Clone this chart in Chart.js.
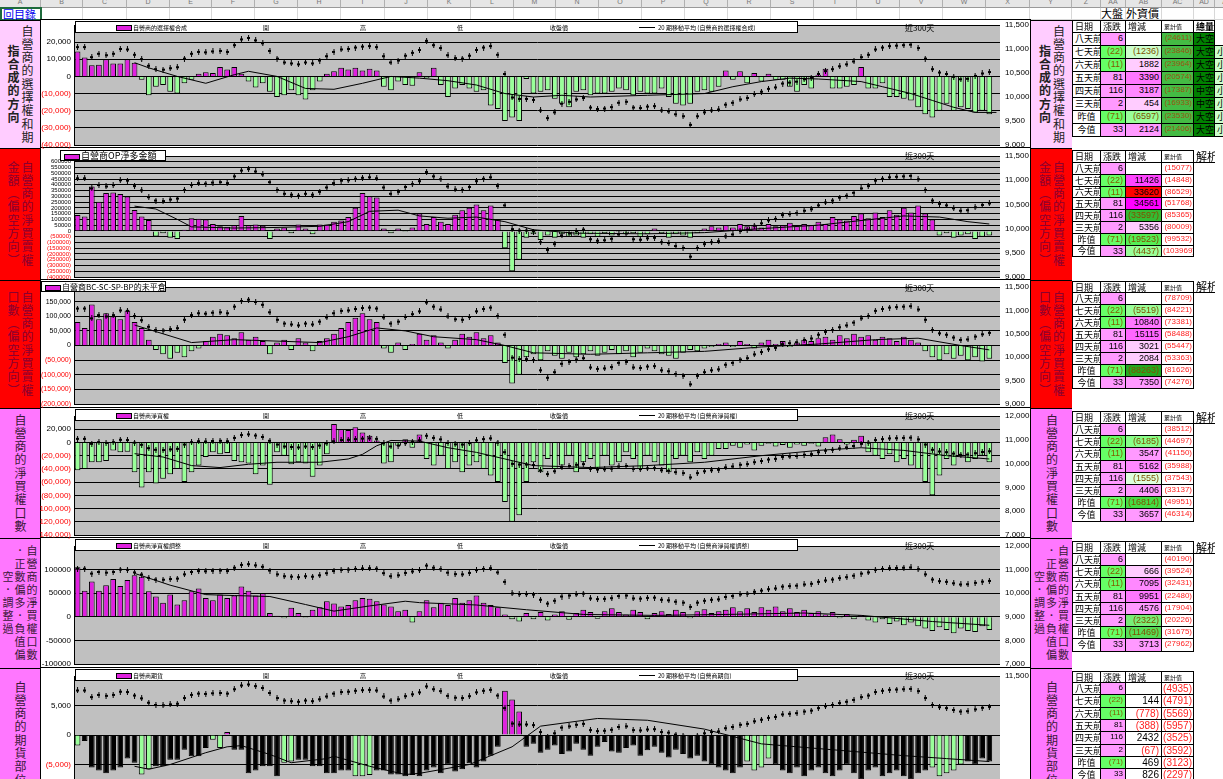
<!DOCTYPE html>
<html lang="zh-Hant">
<head>
<meta charset="UTF-8">
<title>自營商部位</title>
<script src="https://cdn.jsdelivr.net/npm/chart.js"></script>
<style>
    body {
        margin: 0;
        width: 1223px;
        height: 779px;
        overflow: hidden;
        position: relative;
        background: #fff;
        font-family: "Noto Sans CJK TC", sans-serif;
    }

    .abs { position: absolute; box-sizing: border-box; }

    .colhead {
        position: absolute; top: 0; height: 8px; box-sizing: border-box;
        background: #e6e6e6; border-right: 1px solid #b0b0b0; border-bottom: 1px solid #999;
        font: 7px "Liberation Sans", sans-serif; color: #777; text-align: center; line-height: 4px;
        overflow: hidden;
    }

    .gcell { position: absolute; top: 8px; height: 12px; box-sizing: border-box; border-right: 1px solid #d8d8d8; border-bottom: 1px solid #d8d8d8; }

    .side {
        position: absolute; box-sizing: border-box; display: flex;
        justify-content: center; align-items: center; border-top: 1px solid #000; overflow: hidden;
    }

    .side span {
        writing-mode: vertical-rl; font-size: 12px; line-height: 14px; letter-spacing: 1.3px;
        text-align: center;
    }

    .side span.tight { font-size: 11px; line-height: 12px; letter-spacing: 2px; }

    .chartbox { position: absolute; left: 40px; width: 991px; border: 1px solid #000; background: #fff; box-sizing: border-box; }

    canvas { position: absolute; left: 40px; }

    .legend {
        position: absolute; border: 1px solid #000; background: #fff; box-sizing: border-box;
        white-space: nowrap; color: #000;
    }

    .legend i { position: absolute; display: block; }

    .legend b { position: absolute; font-weight: normal; }

    .tag300 { position: absolute; font-size: 8px; color: #000; }

    .cell {
        position: absolute; box-sizing: border-box; border-right: 1px solid #000; border-bottom: 1px solid #000;
        font-size: 9px; overflow: hidden; white-space: nowrap; padding: 0 2px;
    }
</style>
</head>
<body>

<div id="root"></div>

<script>
    // ---- data ----
    const tblDays = ['八天前', '七天前', '六天前', '五天前', '四天前', '三天前', '昨值', '今值'];
    const tblChg = [6, -22, -11, 81, 116, 2, -71, 33];

    const t1Delta = [null, -1236, 1882, 3390, 3187, 454, -6597, 2124];
    const t1Cum = [-24611, -23846, -23964, -20574, -17387, -16933, -23530, -21406];
    const t1Tag = ['大空', '大空', '大空', '大空', '中空', '中空', '大空', '大空'];
    const t2Delta = [null, 11426, 33620, 34561, -33597, 5356, -19523, -4437];
    const t2Cum = [-15077, -14848, -86529, -51768, -85365, -80009, -99532, -103969];
    const t3Delta = [null, -5519, 10840, 15115, 3021, 2084, -88263, 7350];
    const t3Cum = [-78709, -84221, -73381, -58488, -55447, -53363, -81626, -74276];
    const t4Delta = [null, -6185, 3547, 5162, -1555, 4406, -16814, 3657];
    const t4Cum = [-38512, -44697, -41150, -35988, -37543, -33137, -49951, -46314];
    const t5Delta = [null, 666, 7095, 9951, 4576, -2322, -11469, 3713];
    const t5Cum = [-40190, -39524, -32431, -22480, -17904, -20226, -31675, -27962];
    const t6Delta = [null, 144, -778, -388, 2432, -67, 469, 826];
    const t6Cum = [-4935, -4791, -5569, -5957, -3525, -3592, -3123, -2297];

    // 加權指數 (shared by every panel, right axis)
    const idx = [
        11040, 11040, 10830, 10900, 10870, 10900, 11000, 10990, 10880, 10790,
        10650, 10580, 10570, 10600, 10620, 10800, 10900, 10940, 10930, 10950,
        10960, 10940, 11080, 11200, 11230, 11180, 11120, 10960, 10800, 10720,
        10700, 10680, 10720, 10700, 10760, 10850, 10940, 10990, 11000, 11030,
        11050, 11060, 11040, 10850, 10720, 10760, 10860, 10920, 10980, 11170,
        11080, 11020, 10870, 10810, 10800, 10860, 10980, 11030, 11060, 10880,
        10480, 9990, 9960, 9960, 9940, 9720, 9560, 9680, 9860, 9900,
        9950, 9980, 9780, 9750, 9760, 9790, 9880, 9900, 9780, 9770,
        9800, 9810, 9720, 9700, 9640, 9600, 9420, 9600, 9680, 9720,
        9740, 9840, 9880, 9950, 9980, 10060, 10110, 10170, 10200, 10280,
        10300, 10320, 10370, 10400, 10480, 10540, 10580, 10640, 10680, 10740,
        10830, 10880, 10990, 11030, 11060, 11070, 11080, 11090, 11020, 10800,
        10580, 10510, 10480, 10420, 10370, 10380, 10440, 10490, 10520, null
    ];

    const p1Bars = [
        14500, 11000, 6500, 6800, 10000, 7500, 7500, 10000, 8000, -2000,
        -11000, -6000, -5000, -9000, -10000, -4000, -2000, 1500, 2500, 2000,
        5500, 4000, 5500, 1500, -3000, -6500, -4000, -9000, -12000, -11000,
        -8000, -11000, -13500, -8000, -3000, 1500, 3000, 5000, 4000, 5000,
        3500, 4500, 3500, -6000, -8000, -3000, -5000, -5500, 2500, -1000,
        5000, -5000, -12000, -7000, -5000, -7000, -9000, -8000, -17000, -19000,
        -26000, -24000, -26000, -1500, -10000, -9000, -8000, -13000, -16000, -18000,
        -9000, -8000, -11000, -10000, -10000, -9000, -7000, -8000, -11000, -9000,
        -10000, -10000, -7000, -12000, -16000, -17000, -16000, -9000, -8000, -9000,
        -6000, 3500, -2000, 3000, -4000, 2000, -3000, 1500, -2000, -2000,
        -6000, -9000, -5000, -7000, 1000, 4500, -7000, -7000, -6000, -5000,
        5500, -7000, -7000, -4000, -12000, -12000, -13000, -14000, -18000, -22000,
        -24000, -20000, -16000, -20000, -18000, -19000, -21000, -20000, -22000, null
    ];
    const p1MaAt = [8, 10, 14, 18, 22, 24, 28, 32, 36, 40, 44, 48, 52, 56, 60, 64, 68, 72, 80, 88, 92, 96, 100, 104, 110, 113, 117, 120, 123, 126, 129];
    const p1Ma = [8000, 5000, 0, -4000, 1000, 3000, 0, -7000, -7500, -4000, 0, -1000, -2500, -5000, -10000, -12000, -11000, -12000, -11000, -10000, -6000, -3000, -1000, -1500, -3000, -6000, -10000, -14000, -18000, -21000, -21000];

    const p2Bars = [
        137000, 124000, 385000, 254000, 330000, 333000, 320000, 298000, 182000, 124000,
        95000, -49000, -20000, -60000, -70000, 10000, 110000, 105000, 100000, 60000,
        40000, 35000, 50000, 130000, 50000, 55000, 45000, -70000, 20000, 30000,
        -20000, 55000, 20000, -30000, 55000, 55000, 80000, 90000, 120000, 200000,
        330000, 300000, 290000, 20000, -20000, 20000, -10000, 30000, 150000, 60000,
        120000, 80000, 60000, 140000, 180000, 200000, 230000, 180000, 220000, 100000,
        -150000, -350000, -250000, -60000, -30000, -80000, -40000, -60000, -30000, -50000,
        -40000, -60000, -30000, -50000, -20000, -40000, -10000, -30000, -20000, -50000,
        -30000, 20000, -20000, -60000, -30000, -40000, -60000, -20000, 20000, 40000,
        30000, 50000, 30000, 60000, 40000, 50000, 30000, 60000, 40000, 50000,
        70000, 40000, 60000, 50000, 80000, 60000, 120000, 100000, 90000, 130000,
        150000, 110000, 160000, 120000, 180000, 140000, 200000, 160000, 220000, 150000,
        100000, -40000, -20000, -60000, -40000, -30000, -70000, -50000, -40000, null
    ];
    const p2MaAt = [8, 11, 14, 16, 22, 28, 34, 38, 41, 45, 48, 52, 56, 60, 64, 70, 80, 88, 96, 104, 110, 116, 121, 125, 128];
    const p2Ma = [215000, 190000, 100000, 35000, 25000, 30000, 40000, 80000, 170000, 180000, 130000, 110000, 120000, 80000, 10000, -20000, -25000, -15000, 20000, 50000, 90000, 130000, 120000, 80000, 60000];

    const p3Bars = [
        80000, 60000, 140000, 90000, 110000, 100000, 90000, 120000, 80000, 60000,
        20000, -15000, -30000, -45000, -25000, -40000, -20000, -10000, 15000, 30000,
        40000, 35000, 25000, 45000, 20000, 30000, 15000, -30000, 10000, 20000,
        -15000, 25000, 10000, -20000, 15000, 25000, 40000, 60000, 80000, 95000,
        110000, 90000, 80000, -10000, -25000, 10000, -15000, 5000, 40000, 20000,
        35000, 10000, -10000, 20000, 40000, 30000, 45000, 25000, 35000, 10000,
        -60000, -130000, -100000, -40000, -30000, -50000, -20000, -35000, -45000, -25000,
        -40000, -30000, -20000, -35000, -25000, -15000, -30000, -20000, -40000, -25000,
        -10000, -20000, -30000, -35000, -45000, -25000, -15000, -20000, -10000, -5000,
        5000, 10000, -5000, 15000, 5000, -10000, 10000, 20000, 5000, 15000,
        -5000, 10000, 20000, 15000, 25000, 30000, 20000, 35000, 25000, 40000,
        30000, 35000, 20000, 30000, 25000, 15000, 30000, 20000, 10000, -20000,
        -40000, -50000, -30000, -45000, -35000, -50000, -40000, -55000, -45000, null
    ];
    const p3MaAt = [8, 12, 16, 22, 28, 34, 38, 42, 46, 50, 56, 60, 64, 72, 80, 88, 96, 104, 112, 118, 124, 128];
    const p3Ma = [70000, 40000, 10000, 20000, 15000, 10000, 30000, 60000, 50000, 30000, 20000, 0, -25000, -30000, -25000, -20000, -5000, 5000, 20000, 25000, 0, -15000];

    const p4Bars = [
        -42000, -40000, -30000, -30000, -28000, -12000, -15000, -14000, -45000, -68000,
        -45000, -62000, -55000, -48000, -40000, -60000, -45000, -35000, -22000, -15000,
        -18000, -16000, -28000, -30000, -32000, -48000, -35000, -64000, -15000, -20000,
        -33000, -30000, -32000, -52000, -35000, -18000, 28000, 20000, 19000, 23000,
        15000, 10000, 3000, -32000, -30000, -5000, 5000, -8000, 12000, -25000,
        -35000, -20000, -40000, -30000, -45000, -35000, -30000, -40000, -50000, -60000,
        -90000, -120000, -110000, -60000, -30000, -45000, -25000, -40000, -35000, -20000,
        -45000, -30000, -25000, -40000, -20000, -35000, -30000, -15000, -25000, -40000,
        -20000, -30000, -35000, -45000, -25000, -20000, -30000, -15000, -25000, -20000,
        -10000, -10000, -5000, -8000, -3000, -12000, -5000, -2000, -6000, -4000,
        -8000, -3000, -5000, -2000, -6000, 8000, 12000, 5000, -3000, 4000,
        10000, -15000, -20000, -25000, -18000, -30000, -25000, -35000, -40000, -60000,
        -80000, -50000, -25000, -35000, -20000, -30000, -25000, -20000, -30000, null
    ];
    const p4MaAt = [8, 12, 16, 20, 24, 28, 34, 38, 40, 42, 44, 48, 52, 56, 60, 64, 72, 80, 88, 96, 104, 110, 116, 122, 128];
    const p4Ma = [-17000, -22000, -35000, -38000, -33000, -30000, -30000, -25000, -18000, -5000, 3000, 2000, -8000, -15000, -25000, -35000, -38000, -35000, -30000, -20000, -12000, -8000, -12000, -20000, -25000];

    const p5Bars = [
        105000, 55000, 75000, 55000, 67000, 80000, 65000, 78000, 88000, 85000,
        54000, 43000, 30000, 47000, 26000, 35000, 54000, 60000, 40000, 35000,
        47000, 40000, 45000, 64000, 55000, 45000, 50000, 8000, 2000, -3000,
        19000, 8000, -2000, 15000, 20000, 33000, 28000, 22000, 25000, 35000,
        40000, 38000, 33000, 26000, 22000, 12000, 15000, -12000, 12000, 35000,
        20000, 30000, 25000, 40000, 30000, 35000, 45000, 30000, 25000, 20000,
        5000, -5000, -10000, 8000, -5000, 10000, -8000, 5000, 12000, -6000,
        8000, 15000, 10000, -4000, 12000, 18000, 10000, 5000, 15000, 10000,
        -5000, 8000, 12000, 6000, 15000, 10000, -3000, 12000, 16000, 8000,
        12000, 15000, 20000, 12000, 18000, 10000, 20000, 15000, 22000, 12000,
        18000, 10000, 15000, 8000, 12000, 5000, 10000, -3000, 6000, -5000,
        4000, -8000, -12000, -5000, -15000, -10000, -18000, -12000, -20000, -25000,
        -30000, -22000, -28000, -35000, -25000, -30000, -32000, -20000, -28000, null
    ];
    const p5MaAt = [8, 13, 18, 22, 27, 32, 36, 41, 46, 48, 56, 63, 71, 81, 91, 102, 110, 120, 128];
    const p5Ma = [92000, 67000, 47000, 45000, 43000, 26000, 12000, 23000, 33000, 30000, 25000, 15000, 5000, 3000, 5000, 8000, 3000, -10000, -18000];

    const p6Bars = [
        -1800, -1000, -5500, -6000, -6500, -6000, -5500, -4000, -4700, -6700,
        -5800, -5300, -5300, -4200, -4200, -2500, -3600, -3600, -2200, -800,
        -2200, 500, -2500, -2500, -6500, -6000, -5300, -5300, -7000, -4700,
        -4500, -4200, -4200, -5300, -5300, -6500, -6500, -6000, -6000, -7000,
        -7000, -6800, -6000, -6000, -6700, -6700, -7000, -6800, -7000, -6000,
        -5500, -6500, -5000, -6200, -5800, -4800, -5500, -4500, -3500, -2000,
        7500, 6000, 4000, -2000, -1500, -3000, -2500, -1800, -3200, -2800,
        -1500, -2500, -3500, -2000, -1200, -2800, -3000, -2200, -1800, -3500,
        -2600, -2000, -3000, -3800, -2500, -3200, -4000, -3500, -4500, -5000,
        -5500, -6000, -6500, -5500, -4500, -6000, -5500, -4000, -5000, -6000,
        -6500, -5500, -7000, -6000, -5500, -6500, -7000, -6000, -5000, -6500,
        -7500, -6000, -5500, -7000, -6500, -6000, -7000, -7500, -6500, -6000,
        -5500, -7000, -6500, -6000, -5000, -4500, -5000, -4000, -4500, null
    ];
    const p6MaAt = [8, 10, 13, 18, 21, 23, 27, 30, 35, 36, 41, 46, 48, 55, 61, 65, 73, 80, 88, 96, 106, 116, 122, 128];
    const p6Ma = [-5300, -5800, -5000, -3000, -2000, -1800, -3300, -4700, -4000, -3600, -5300, -6700, -6500, -5000, -2000, 1500, 2800, 2500, 1000, -1500, -2500, -3500, -4000, -4500];

    // bars of the futures panel that Excel drew light green instead of black
    const p6GreenAt = [0, 9, 10, 19, 20, 29, 30, 39, 40, 41, 94, 95, 96, 97, 120, 121, 122, 123, 124];

    const days = idx.map((v, i) => 'D' + (i + 1));

    // ---- layout helpers ----
    const root = document.getElementById('root');

    function add(tag, cls, css, html) {
        const d = document.createElement(tag);
        if (cls) d.className = cls;
        if (css) d.style.cssText = css;
        if (html !== undefined) d.innerHTML = html;
        root.appendChild(d);
        return d;
    }

    function paren(v, comma) {
        const s = comma ? Math.abs(v).toLocaleString('en-US') : String(Math.abs(v));
        return v < 0 ? '(' + s + ')' : s;
    }

    // small candle glyph used as point style for the index
    const candle = document.createElement('canvas');
    candle.width = 3;
    candle.height = 6;
    (function () {
        const g = candle.getContext('2d');
        g.fillStyle = '#000';
        g.fillRect(1, 0, 1, 6);
        g.fillRect(0, 2, 3, 2);
    })();

    // spreadsheet column header strip
    const colX = [0, 41, 83, 127, 170, 212, 255, 298, 341, 385, 428, 471, 514, 556, 599, 642, 685, 728, 771, 814, 857, 900, 943, 986, 1030, 1072, 1101, 1126, 1162, 1194, 1215, 1240];
    const colName = ['A', 'B', 'C', 'D', 'E', 'F', 'G', 'H', 'I', 'J', 'K', 'L', 'M', 'N', 'O', 'P', 'Q', 'R', 'S', 'T', 'U', 'V', 'W', 'X', 'Y', 'Z', 'AA', 'AB', 'AC', 'AD', 'AE'];
    for (let i = 0; i < colX.length - 1; i++) {
        add('div', 'colhead', `left:${colX[i]}px;width:${colX[i + 1] - colX[i]}px;`, colName[i]);
        add('div', 'gcell', `left:${colX[i]}px;width:${colX[i + 1] - colX[i]}px;`);
    }
    add('div', 'abs', 'left:0;top:7px;width:42px;height:14px;border:2px solid #1e6b3c;background:#fff;font-size:11px;line-height:10px;color:#0000ee;padding-left:1px;', '回目錄');
    add('div', 'abs', 'left:1101px;top:7px;width:25px;height:13px;font-size:11px;line-height:13px;', '大盤');
    add('div', 'abs', 'left:1126px;top:7px;width:40px;height:13px;font-size:11px;line-height:13px;', '外資價');

    // ---- panels ----
    const panels = [
        {
            top: 20, bottom: 148, plotTop: 25, plotBottom: 145,
            yMin: -40000, yMax: 30000, yStep: 10000, y2Min: 9000, y2Max: 11500, y2Step: 500,
            fmt: v => paren(v, true), red: true, fs: 8,
            bars: p1Bars, maAt: p1MaAt, ma: p1Ma,
            side: ['自營商的選擇權和期', '<b>指合成的方向</b>'], sideBg: '#ffccff', sideColor: '#222',
            legend: { kind: 'stock', name: '自營商的選擇權合成' },
            tbl: { top: 20, hh: 13, rh: 13, delta: t1Delta, cum: t1Cum, h5: '總量',
                bg: ['#fff', '#ccffcc', '#ffccff', '#ff77ff', '#ff88ff', '#ffccff', '#99ff99', '#ff99ff'],
                cumBg: '#44bb44', cumColor: '#995511', tag: t1Tag }
        },
        {
            top: 148, bottom: 280, plotTop: 156, plotBottom: 277,
            yMin: -400000, yMax: 650000, yStep: 50000, y2Min: 9000, y2Max: 11500, y2Step: 500,
            fmt: v => paren(v, false), red: true, fs: 6,
            bars: p2Bars, maAt: p2MaAt, ma: p2Ma,
            side: ['自營商的淨買賣權', '金額（偏空方向）'], sideBg: '#ff0000', sideColor: '#8a0030',
            legend: { kind: 'box', name: '自營商OP淨多金額', left: 60, width: 106, top: 150, fs: 9 },
            tbl: { top: 150, hh: 13, rh: 11.8, delta: t2Delta, cum: t2Cum, h5: '解析1',
                bg: ['#fff', '#ff44ff', '#ff0000', '#ff00ff', '#33bb33', '#ffccff', '#55ee55', '#99ff99'],
                cumBg: '#fff', cumColor: '#ff2222' }
        },
        {
            top: 280, bottom: 408, plotTop: 287, plotBottom: 404,
            yMin: -200000, yMax: 200000, yStep: 50000, y2Min: 9000, y2Max: 11500, y2Step: 500,
            fmt: v => paren(v, true), red: true, fs: 7,
            bars: p3Bars, maAt: p3MaAt, ma: p3Ma,
            side: ['自營商的淨買賣權', '口數（偏空方向）'], sideBg: '#ff0000', sideColor: '#8a0030',
            legend: { kind: 'box', name: '自營商BC-SC-SP-BP的未平倉', left: 41, width: 125, top: 281, fs: 8 },
            tbl: { top: 281, hh: 12, rh: 12, delta: t3Delta, cum: t3Cum, h5: '解析',
                bg: ['#fff', '#99ff99', '#ff77ff', '#ff66ff', '#ffccff', '#ffccff', '#22aa22', '#ff99ff'],
                cumBg: '#fff', cumColor: '#ff2222' }
        },
        {
            top: 408, bottom: 538, plotTop: 416, plotBottom: 535,
            yMin: -140000, yMax: 40000, yStep: 20000, y2Min: 7000, y2Max: 12000, y2Step: 1000,
            fmt: v => paren(v, true), red: true, fs: 8,
            bars: p4Bars, maAt: p4MaAt, ma: p4Ma,
            side: ['自營商的淨買權口數'], sideBg: '#ff77ff', sideColor: '#3a1838',
            legend: { kind: 'stock', name: '自營商淨買權' },
            tbl: { top: 411, hh: 13, rh: 12.2, delta: t4Delta, cum: t4Cum, h5: '解析',
                bg: ['#fff', '#88ff88', '#ff99ff', '#ff88ff', '#ddffdd', '#ff99ff', '#44dd44', '#ff99ff'],
                cumBg: '#fff', cumColor: '#ff2222' }
        },
        {
            top: 538, bottom: 668, plotTop: 546, plotBottom: 664,
            yMin: -100000, yMax: 150000, yStep: 50000, y2Min: 7000, y2Max: 12000, y2Step: 1000,
            fmt: v => String(v), red: false, fs: 8,
            bars: p5Bars, maAt: p5MaAt, ma: p5Ma,
            side: ['自營商的淨買權口數', '．正數偏多．負值偏', '空．調整過'], sideBg: '#ff77ff', sideColor: '#3a1838', tight: true,
            legend: { kind: 'stock', name: '自營商淨買權調整' },
            tbl: { top: 541, hh: 13, rh: 12.2, delta: t5Delta, cum: t5Cum, h5: '解析',
                bg: ['#fff', '#ffccff', '#ff88ff', '#ff77ff', '#ff99ff', '#77ee77', '#55dd55', '#ff99ff'],
                cumBg: '#fff', cumColor: '#ff2222' }
        },
        {
            top: 668, bottom: 800, plotTop: 676, plotBottom: 794,
            yMin: -10000, yMax: 10000, yStep: 5000, y2Min: 7750, y2Max: 11500, y2Step: 500,
            fmt: v => paren(v, true), red: true, fs: 8,
            bars: p6Bars, maAt: p6MaAt, ma: p6Ma, greenAt: p6GreenAt,
            side: ['自營商的期貨部位'], sideBg: '#ff77ff', sideColor: '#3a1838',
            legend: { kind: 'stock', name: '自營商期貨' },
            tbl: { top: 671, hh: 12, rh: 12.3, delta: t6Delta, cum: t6Cum, h5: '', big: true,
                bg: ['#fff', '#fff', '#fff', '#fff', '#fff', '#fff', '#fff', '#fff'],
                cumBg: '#fff', cumColor: '#ff2222' }
        }
    ];

    // gray plot area like Excel
    const plotBg = {
        id: 'plotBg',
        beforeDraw(chart) {
            const a = chart.chartArea, ctx = chart.ctx;
            ctx.save();
            ctx.fillStyle = '#c0c0c0';
            ctx.fillRect(a.left, a.top, a.right - a.left, a.bottom - a.top);
            ctx.restore();
        }
    };

    function sideLabel(x, w, p) {
        const d = add('div', 'side', `left:${x}px;width:${w}px;top:${p.top}px;height:${p.bottom - p.top}px;background:${p.sideBg};`);
        d.innerHTML = '<span class="' + (p.tight ? 'tight' : '') + '" style="color:' + p.sideColor + '">' + p.side.join('<br>') + '</span>';
    }

    function legendBox(p) {
        const L = p.legend;
        if (L.kind === 'box') {
            add('div', 'legend', `left:${L.left}px;top:${L.top}px;width:${L.width}px;height:11px;font-size:${L.fs}px;line-height:10px;`,
                `<i style="left:3px;top:3px;width:14px;height:4px;background:#e020e0;border:1px solid #000;"></i><b style="left:20px;top:0;">${L.name}</b>`);
            return;
        }
        const t = p.top + 1;
        add('div', 'legend', `left:75px;top:${t}px;width:723px;height:12px;font-size:6px;line-height:11px;`,
            `<i style="left:40px;top:3px;width:14px;height:4px;background:#e020e0;border:1px solid #000;"></i>` +
            `<b style="left:57px;">${L.name}</b>` +
            `<b style="left:187px;">開</b><b style="left:284px;">高</b><b style="left:381px;">低</b>` +
            `<b style="left:474px;">收盤價</b>` +
            `<i style="left:563px;top:5px;width:16px;height:1px;background:#000;"></i>` +
            `<b style="left:582px;">20 期移動平均 (${L.name})</b>`);
    }

    function table(p) {
        const T = p.tbl;
        const X = [1072, 1101, 1126, 1162, 1194, 1215, 1240];
        const heads = ['日期', '漲跌', '增減', '累計值', T.h5];
        const numFont = T.big ? 'font:10px "Liberation Sans",sans-serif;' : 'font:9px "Liberation Sans",sans-serif;';
        for (let c = 0; c < 5; c++) {
            const w = X[c + 1] - X[c];
            let css = `left:${X[c]}px;top:${T.top}px;width:${w}px;height:${T.hh}px;line-height:${T.hh - 1}px;border-top:1px solid #000;`;
            if (c === 0) css += 'border-left:1px solid #000;';
            if (c === 3) css += 'font-size:6px;';
            if (c === 4 && !T.tag) css += 'border-right:none;border-top:none;font-size:11px;';
            if (c === 4 && T.tag) css += 'font-weight:bold;';
            if (c === 4 && !T.h5) continue;
            add('div', 'cell', css, heads[c]);
        }
        for (let r = 0; r < 8; r++) {
            const y = Math.round(T.top + T.hh + r * T.rh);
            const h = Math.round(T.top + T.hh + (r + 1) * T.rh) - y;
            const base = `top:${y}px;height:${h}px;line-height:${h - 1}px;`;
            add('div', 'cell', base + `left:${X[0]}px;width:${X[1] - X[0]}px;border-left:1px solid #000;text-align:center;`, tblDays[r]);
            const ch = tblChg[r];
            add('div', 'cell', base + numFont + `left:${X[1]}px;width:${X[2] - X[1]}px;text-align:right;background:${ch < 0 ? '#66ff66' : '#ff99ff'};color:${ch < 0 ? '#806000' : '#000'};` + (T.big ? 'font-size:8px;' : ''), paren(ch, false));
            const dv = T.delta[r];
            const dcol = T.big ? (dv < 0 ? '#ff2222' : '#000') : (dv < 0 ? '#805000' : '#000');
            add('div', 'cell', base + numFont + `left:${X[2]}px;width:${X[3] - X[2]}px;text-align:right;background:${T.bg[r]};color:${dcol};`, dv === null ? '' : paren(dv, false));
            add('div', 'cell', base + numFont + `left:${X[3]}px;width:${X[4] - X[3]}px;text-align:right;padding:0 1px;background:${T.cumBg};color:${T.cumColor};` + (T.big ? '' : 'font-size:8px;'), paren(T.cum[r], false));
            if (T.tag) {
                add('div', 'cell', base + `left:${X[4]}px;width:${X[5] - X[4]}px;background:#008000;`, T.tag[r]);
                add('div', 'cell', base + `left:${X[5]}px;width:${X[6] - X[5]}px;background:${r === 0 ? '#fff' : '#ccffcc'};`, r === 0 ? '' : '小');
            }
        }
    }

    // chart boxes first, canvases on top, legends above canvases
    panels.forEach(p => {
        add('div', 'chartbox', `top:${p.top - 1}px;height:${p.bottom - p.top + 2}px;`);
        sideLabel(0, 40, p);
        sideLabel(1031, 41, p);
    });

    panels.forEach(p => {
        const cv = add('canvas', '', `top:${p.plotTop - 10}px;`);
        cv.width = 990;
        cv.height = p.plotBottom - p.plotTop + 20;

        const barColors = p.bars.map((v, i) => {
            if (p.greenAt) {
                if (v > 0) return '#e020e0';
                return p.greenAt.includes(i) ? '#99ff99' : '#000';
            }
            return v >= 0 ? '#e020e0' : '#99ff99';
        });

        new Chart(cv, {
            data: {
                labels: days,
                datasets: [
                    {
                        type: 'line', data: idx, yAxisID: 'y2', showLine: false,
                        pointStyle: candle, pointRadius: 3, order: 1
                    },
                    {
                        type: 'line', data: p.maAt.map((s, k) => ({ x: days[s], y: p.ma[k] })),
                        yAxisID: 'y', borderColor: '#000', borderWidth: 1, pointRadius: 0, order: 2
                    },
                    {
                        type: 'bar', data: p.bars, yAxisID: 'y', backgroundColor: barColors,
                        borderColor: '#000', borderWidth: 1, barPercentage: 0.8, categoryPercentage: 1,
                        order: 3
                    }
                ]
            },
            options: {
                responsive: false,
                animation: false,
                events: [],
                layout: { padding: { top: 10, bottom: 10, left: 0, right: 0 } },
                plugins: { legend: { display: false }, tooltip: { enabled: false } },
                scales: {
                    x: { type: 'category', display: false, offset: true },
                    y: {
                        position: 'left', min: p.yMin, max: p.yMax,
                        afterFit: s => { s.width = 34; },
                        ticks: {
                            stepSize: p.yStep, autoSkip: false, padding: 3,
                            font: { size: p.fs, family: 'Liberation Sans' },
                            color: c => (p.red && c.tick && c.tick.value < 0) ? '#ff0000' : '#000',
                            callback: v => v === p.yMax ? '' : p.fmt(v)
                        },
                        grid: { color: '#000', lineWidth: 1, drawTicks: false },
                        border: { display: true, color: '#000' }
                    },
                    y2: {
                        position: 'right', min: p.y2Min, max: p.y2Max,
                        afterFit: s => { s.width = 30; },
                        afterBuildTicks: s => { s.ticks = s.ticks.filter(t => t.value % p.y2Step === 0); },
                        ticks: {
                            stepSize: p.y2Step, autoSkip: false, padding: 5,
                            font: { size: 8, family: 'Liberation Sans' }, color: '#000'
                        },
                        grid: { drawOnChartArea: false, drawTicks: false },
                        border: { display: false }
                    }
                }
            },
            plugins: [plotBg]
        });
    });

    panels.forEach(p => {
        legendBox(p);
        add('div', 'tag300', `left:905px;top:${p.top + 2}px;`, '近300天');
        table(p);
    });
</script>
</body>
</html>
